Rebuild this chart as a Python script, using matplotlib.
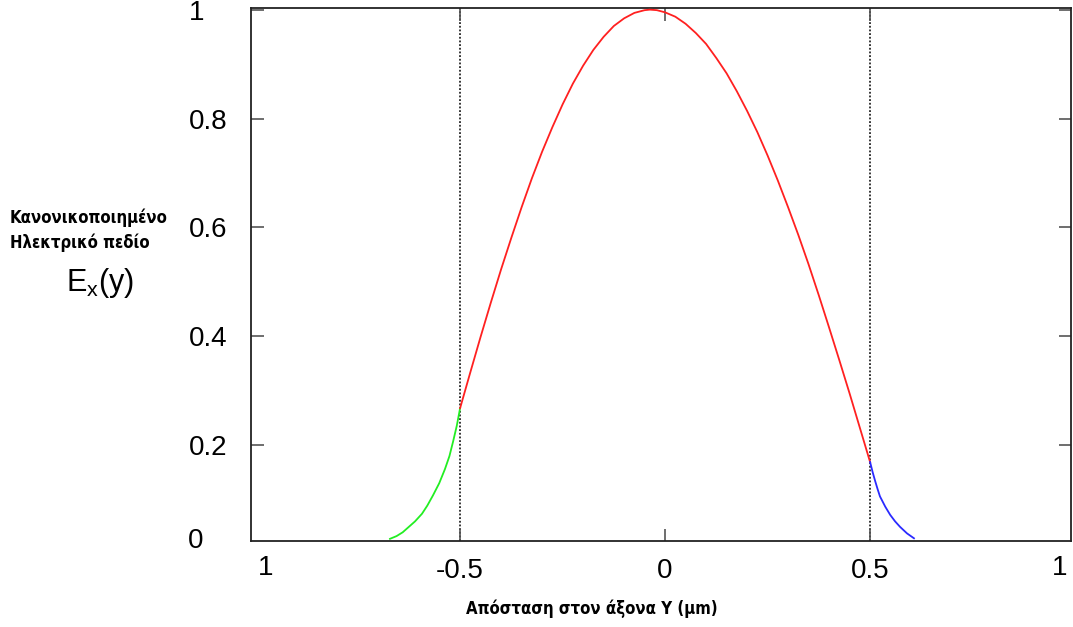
import matplotlib
matplotlib.use("Agg")
import matplotlib.pyplot as plt

# ---- data ----
green_x = [-0.671, -0.655, -0.640, -0.625, -0.610, -0.593, -0.580, -0.566, -0.551,
           -0.537, -0.526, -0.517, -0.508, -0.500]
green_y = [0.028, 0.033, 0.040, 0.050, 0.060, 0.074, 0.089, 0.108, 0.130,
           0.156, 0.180, 0.207, 0.236, 0.268]

red_x = [-0.500, -0.475, -0.450, -0.425, -0.400, -0.375, -0.350, -0.325, -0.300, -0.275,
         -0.250, -0.225, -0.200, -0.175, -0.150, -0.125, -0.100, -0.075, -0.050, -0.037,
         -0.020, 0.000, 0.025, 0.050, 0.075, 0.100, 0.125, 0.150, 0.175, 0.200,
         0.225, 0.250, 0.275, 0.300, 0.325, 0.350, 0.375, 0.400, 0.425, 0.450,
         0.475, 0.500]
red_y = [0.268, 0.334, 0.399, 0.462, 0.523, 0.581, 0.637, 0.690, 0.739, 0.784,
         0.826, 0.864, 0.897, 0.926, 0.950, 0.970, 0.984, 0.994, 0.999, 1.000,
         0.999, 0.995, 0.987, 0.974, 0.957, 0.937, 0.911, 0.883, 0.850, 0.814,
         0.775, 0.732, 0.686, 0.637, 0.586, 0.532, 0.475, 0.416, 0.356, 0.295,
         0.232, 0.169]

blue_x = [0.500, 0.506, 0.512, 0.518, 0.524, 0.537, 0.549, 0.561, 0.573, 0.590, 0.607]
blue_y = [0.169, 0.151, 0.135, 0.120, 0.106, 0.087, 0.072, 0.060, 0.050, 0.038, 0.029]

boundaries = [-0.5, 0.5]
xtick_vals = [-0.5, 0.0, 0.5]
xtick_labels = ["-0.5", "0", "0.5"]
xend_labels = ["1", "1"]
ytick_vals = [0.2, 0.4, 0.6, 0.8, 1.0]
ytick_labels = ["0.2", "0.4", "0.6", "0.8", "1"]
y_zero_label = "0"

ylabel_lines = "Κανονικοποιημένο\nΗλεκτρικό πεδίο"
ylabel_sym = r"$\mathregular{E_x(y)}$"
xlabel = "Απόσταση στον άξονα Y (μm)"

# ---- figure ----
plt.rcParams['font.family'] = ['Liberation Sans', 'DejaVu Sans']
plt.rcParams['mathtext.fontset'] = 'custom'
plt.rcParams['mathtext.rm'] = 'Liberation Sans'

W, H = 1073, 627
fig = plt.figure(figsize=(W / 100, H / 100), dpi=100)
ax = fig.add_axes([251 / W, (H - 541) / H, (1071 - 251) / W, (541 - 8) / H])

XLIM = (-1.01, 0.99)
YLIM = (0.024, 1.003)
ax.set_xlim(*XLIM)
ax.set_ylim(*YLIM)

for b in boundaries:
    ax.axvline(b, color='black', linestyle=(0, (1.2, 1.2)), linewidth=1.1, zorder=1)

ax.plot(green_x, green_y, color='#22ee22', linewidth=1.3, zorder=3)
ax.plot(red_x, red_y, color='#ff2020', linewidth=1.3, zorder=3)
ax.plot(blue_x, blue_y, color='#2a2aff', linewidth=1.3, zorder=3)

for s in ax.spines.values():
    s.set_linewidth(1.3)
    s.set_color('#222222')

ax.set_xticks(xtick_vals)
ax.set_xticklabels(xtick_labels)
ax.set_yticks(ytick_vals)
ax.set_yticklabels(ytick_labels)
ax.tick_params(axis='both', direction='in', length=9, width=1.2, color='#555555',
               top=True, right=True, labelsize=20)
ax.tick_params(axis='x', pad=12)
ax.tick_params(axis='y', pad=45)
for lab in ax.get_yticklabels():
    lab.set_horizontalalignment('left')
    lab.set_verticalalignment('center_baseline')

# end labels of x axis and zero label of y axis
fig.text(266 / W, 1 - 568 / H, xend_labels[0], ha='center', va='center', fontsize=20)
fig.text(1060 / W, 1 - 568 / H, xend_labels[1], ha='center', va='center', fontsize=20)
fig.text(188 / W, 1 - 541 / H, y_zero_label, ha='left', va='center', fontsize=20)

cond = dict(fontweight='bold', family='DejaVu Sans', fontstretch='condensed')

# y label block
fig.text(10 / W, 1 - 230 / H, ylabel_lines, ha='left', va='center', fontsize=12,
         linespacing=1.45, **cond)
fig.text(100 / W, 1 - 283 / H, ylabel_sym, ha='center', va='center', fontsize=22)

# x label
fig.text(592 / W, 1 - 609 / H, xlabel, ha='center', va='center', fontsize=12, **cond)

fig.savefig('out.png', dpi=100)
